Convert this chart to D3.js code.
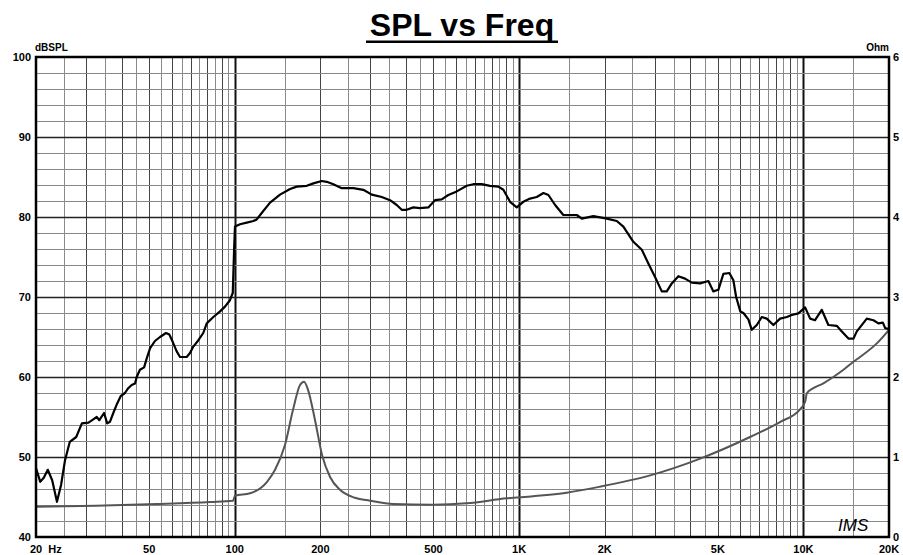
<!DOCTYPE html>
<html>
<head>
<meta charset="utf-8">
<script src="https://cdn.jsdelivr.net/npm/d3@7"></script>
<style>
  body { margin: 0; background: #fff; }
  text { font-family: "Liberation Sans", Arial, sans-serif; }
</style>
</head>
<body>
<div id="chart"></div>
<script>
// SPL curve (Hz, dB)
const splFreq = [20, 20.7, 21.3, 22.0, 22.8, 23.7, 24.5, 25.3, 26.3, 27.7, 29.0, 30.6, 31.8, 32.7, 33.4, 34.7, 35.6, 36.4, 37.4, 38.6, 39.7, 41.1, 42.2, 43.4, 44.6, 45.2, 46.4, 48.0, 49.0, 50.4, 52.4, 54.6, 57.3, 58.9, 60.5, 62.5, 64.2, 67.8, 69.6, 71.5, 74.5, 77.5, 79.7, 84.1, 88.8, 92.4, 96.2, 98.4, 99.6, 100.2,
  104.4, 110.2, 116.3, 119.5, 124.4, 133.1, 144.3, 156.5, 165.2, 179.2, 189, 202.3, 210.7, 222.2, 237.9, 261.4, 283.3, 303.3, 328.9, 351.7, 371.3, 386.7, 402.6, 424.7, 448.4, 479.6, 506.3, 534.5, 563.9, 603.6, 654.6, 690.5, 739.1, 790.5, 845.5, 880.5, 929.6, 981.4,
  1035, 1093, 1154, 1218, 1268, 1339, 1431, 1596, 1662, 1826, 2035, 2206, 2327, 2523, 2702, 2849, 3008, 3176, 3307, 3444, 3633, 3835, 4049, 4331, 4632, 4824, 5022, 5230, 5490, 5671, 5800, 6000, 6151, 6404, 6583, 6855, 7139, 7434, 7842, 8280, 8741, 9103, 9602,
  10140, 10560, 10990, 11600, 12240, 13100, 13650, 14400, 15000, 15410, 16710, 17630, 18360, 19030, 19390, 20000];
const splDb = [48.6, 46.9, 47.4, 48.4, 47.1, 44.4, 46.5, 49.6, 51.9, 52.5, 54.2, 54.3, 54.7, 55.0, 54.6, 55.5, 54.2, 54.4, 55.5, 56.7, 57.6, 58.0, 58.6, 59.0, 59.2, 60.0, 60.9, 61.2, 62.3, 63.6, 64.5, 65.0, 65.5, 65.3, 64.4, 63.2, 62.5, 62.5, 63.0, 63.8, 64.6, 65.5, 66.7, 67.5, 68.2, 68.8, 69.6, 70.5, 76.5, 78.8,
  79.1, 79.3, 79.5, 79.7, 80.5, 81.8, 82.8, 83.5, 83.8, 83.9, 84.2, 84.5, 84.4, 84.1, 83.6, 83.6, 83.4, 82.8, 82.5, 82.1, 81.5, 80.9, 80.9, 81.2, 81.1, 81.2, 82.1, 82.2, 82.75, 83.2, 83.9, 84.1, 84.1, 83.9, 83.8, 83.4, 81.9, 81.2,
  81.9, 82.3, 82.5, 83.0, 82.75, 81.5, 80.25, 80.25, 79.8, 80.1, 79.8, 79.5, 78.8, 76.9, 75.9, 74.2, 72.5, 70.7, 70.7, 71.7, 72.6, 72.3, 71.8, 71.7, 72.0, 70.7, 70.9, 72.9, 73.0, 72.1, 70.0, 68.2, 68.0, 67.2, 65.9, 66.5, 67.5, 67.3, 66.5, 67.3, 67.5, 67.75, 67.96,
  68.7, 67.3, 67.1, 68.4, 66.5, 66.4, 65.7, 64.8, 64.8, 65.7, 67.3, 67.1, 66.7, 66.8, 66.1, 66.0];

// Impedance curve (Hz, Ohm)
const impFreq = [20, 32.5, 53.3, 81.9, 98.6, 100.2, 113.2, 129.9, 138.6, 150.2, 160.3, 169.7, 175.3, 181.0, 191.6, 202.8, 216.4, 234.5, 264.8, 299.1, 360.4, 497.9, 654.2, 905, 1120, 1472, 1927, 2890, 4335, 6490, 8300, 9730, 10140, 10280, 10840, 11750, 12740, 13830, 14990, 15820, 18120, 20000];
const impOhm = [3.79, 3.91, 4.13, 4.38, 4.54, 5.16, 5.46, 6.9, 8.4, 11.5, 15.9, 19.0, 19.4, 18.4, 14.6, 10.25, 7.5, 5.9, 4.9, 4.54, 4.13, 4.04, 4.21, 4.84, 5.1, 5.54, 6.29, 7.7, 9.8, 12.5, 14.4, 15.96, 16.9, 17.96, 18.6, 19.2, 20.0, 20.9, 21.9, 22.5, 24.2, 25.9];

// axis ticks
const freqTicks = [20, 50, 100, 200, 500, 1000, 2000, 5000, 10000, 20000];
const freqLabels = ["20  Hz", "50", "100", "200", "500", "1K", "2K", "5K", "10K", "20K"];
const dbTicks = [40, 50, 60, 70, 80, 90, 100];
const ohmTicks = [0, 10, 20, 30, 40, 50, 60];
const ohmLabels = ["0", "1", "2", "3", "4", "5", "6"];

const W = 903, H = 555;
const pL = 36, pR = 889, pT = 57, pB = 537;

const svg = d3.select("#chart").append("svg")
  .attr("width", W).attr("height", H);

const x = d3.scaleLog().domain([20, 20000]).range([pL, pR]);
const y = d3.scaleLinear().domain([40, 100]).range([pB, pT]);
const yOhm = d3.scaleLinear().domain([0, 60]).range([pB, pT]);

// vertical grid: every half step of each decade
const vgrid = [];
[10, 100, 1000, 10000].forEach(dec => {
  for (let m = 1; m < 10; m += 0.5) {
    const f = m * dec;
    if (f > 20 && f < 20000) vgrid.push({f: f, whole: m % 1 === 0, decade: m === 1});
  }
});

svg.append("g").selectAll("line")
  .data(vgrid)
  .enter().append("line")
    .attr("x1", d => Math.round(x(d.f)) + 0.5)
    .attr("x2", d => Math.round(x(d.f)) + 0.5)
    .attr("y1", pT).attr("y2", pB)
    .style("stroke", d => d.decade ? "#111" : d.whole ? "#444" : "#8a8a8a")
    .style("stroke-width", d => d.decade ? 2 : 1);

// horizontal grid every 2 dB
const hgrid = d3.range(42, 100, 2);
svg.append("g").selectAll("line")
  .data(hgrid)
  .enter().append("line")
    .attr("x1", pL).attr("x2", pR)
    .attr("y1", d => Math.round(y(d)) + 0.5)
    .attr("y2", d => Math.round(y(d)) + 0.5)
    .style("stroke", d => d % 10 === 0 ? "#222" : "#888")
    .style("stroke-width", d => d % 10 === 0 ? 1.5 : 1);

// curves
const splData = splFreq.map((f, i) => ({f: f, v: splDb[i]}));
const impData = impFreq.map((f, i) => ({f: f, v: impOhm[i]}));

svg.append("path")
  .datum(impData)
  .attr("fill", "none")
  .attr("stroke", "#555")
  .attr("stroke-width", 2)
  .attr("d", d3.line().x(d => x(d.f)).y(d => yOhm(d.v)).curve(d3.curveMonotoneX));

svg.append("path")
  .datum(splData)
  .attr("fill", "none")
  .attr("stroke", "#000")
  .attr("stroke-width", 2.2)
  .attr("stroke-linejoin", "round")
  .attr("d", d3.line().x(d => x(d.f)).y(d => y(d.v)));

// frame
svg.append("rect")
  .attr("x", pL).attr("y", pT)
  .attr("width", pR - pL).attr("height", pB - pT)
  .attr("fill", "none")
  .style("stroke", "black")
  .style("stroke-width", 2.5);

// left labels
svg.append("g").selectAll("text")
  .data(dbTicks)
  .enter().append("text")
    .attr("x", 31)
    .attr("y", d => y(d) + 4)
    .attr("text-anchor", "end")
    .attr("font-size", "11px")
    .attr("font-weight", "bold")
    .text(d => d);

// right labels
svg.append("g").selectAll("text")
  .data(ohmTicks)
  .enter().append("text")
    .attr("x", 893)
    .attr("y", d => yOhm(d) + 4)
    .attr("font-size", "11px")
    .attr("font-weight", "bold")
    .text((d, i) => ohmLabels[i]);

// bottom labels
svg.append("g").selectAll("text")
  .data(freqTicks)
  .enter().append("text")
    .attr("x", (d, i) => i === 0 ? 30 : x(d))
    .attr("y", 553)
    .attr("text-anchor", (d, i) => i === 0 ? "start" : "middle")
    .attr("font-size", "11px")
    .attr("font-weight", "bold")
    .attr("xml:space", "preserve")
    .style("white-space", "pre")
    .text((d, i) => freqLabels[i]);

svg.append("text")
  .attr("x", 35).attr("y", 51)
  .attr("font-size", "10px").attr("font-weight", "bold")
  .text("dBSPL");

svg.append("text")
  .attr("x", 889).attr("y", 51)
  .attr("text-anchor", "end")
  .attr("font-size", "10px").attr("font-weight", "bold")
  .text("Ohm");

// title
svg.append("text")
  .attr("x", 462).attr("y", 36)
  .attr("text-anchor", "middle")
  .attr("font-size", "32px").attr("font-weight", "bold")
  .text("SPL vs Freq");
svg.append("rect")
  .attr("x", 366).attr("y", 40.5)
  .attr("width", 192).attr("height", 2.5)
  .attr("fill", "black");

// logo
svg.append("text")
  .attr("x", 838).attr("y", 531)
  .attr("font-family", "DejaVu Serif")
  .attr("font-style", "italic")
  .attr("font-size", "17px")
  .text("IMS");
</script>
</body>
</html>
